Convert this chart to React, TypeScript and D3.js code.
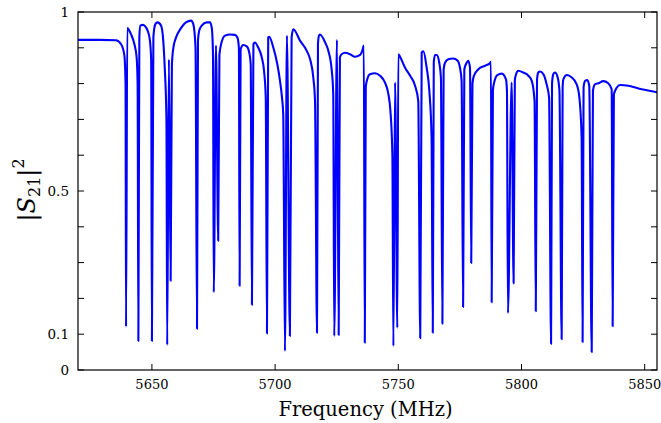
import React from "react";
import * as d3 from "d3";

// Axis ticks
const xTickValues = [5650, 5700, 5750, 5800, 5850];
const yTickValues = [0, 0.1, 0.2, 0.3, 0.4, 0.5, 0.6, 0.7, 0.8, 0.9, 1];
const yTickLabelled: Record<string, string> = { "0": "0", "0.1": "0.1", "0.5": "0.5", "1": "1" };

// Resonance dips: centre frequency (MHz) and minimum |S21|^2
const dipFreq = [
  5639.5, 5644.5, 5650.0, 5656.2, 5657.6, 5668.3, 5675.1, 5676.9, 5685.6, 5690.6,
  5696.7, 5704.0, 5706.0, 5717.0, 5724.0, 5725.8, 5736.4, 5748.0, 5749.6, 5758.9,
  5764.0, 5767.9, 5776.3, 5779.6, 5787.9, 5794.5, 5796.8, 5805.8, 5812.0, 5816.3,
  5824.8, 5828.5, 5837.0,
];
const dipMin = [
  0.121, 0.081, 0.081, 0.070, 0.249, 0.115, 0.217, 0.361, 0.235, 0.182,
  0.102, 0.053, 0.095, 0.104, 0.095, 0.098, 0.076, 0.067, 0.118, 0.089,
  0.104, 0.129, 0.176, 0.299, 0.189, 0.159, 0.242, 0.164, 0.073, 0.086,
  0.078, 0.050, 0.122,
];

// Transmission between the dips (frequency MHz, |S21|^2)
const continuum: [number, number][] = [
  [5620.0, 0.922], [5628.9, 0.922], [5635.4, 0.921], [5637.5, 0.910], [5638.8, 0.880], [5639.3, 0.800],
  [5640.0, 0.955], [5641.5, 0.938], [5642.9, 0.910], [5643.8, 0.873], [5644.2, 0.800],
  [5644.9, 0.930], [5645.3, 0.962], [5646.3, 0.964], [5648.3, 0.947], [5649.2, 0.920], [5649.7, 0.864],
  [5650.6, 0.930], [5651.4, 0.966], [5652.3, 0.971], [5653.7, 0.962], [5654.6, 0.920], [5655.2, 0.845], [5655.9, 0.700],
  [5656.9, 0.868],
  [5658.1, 0.850], [5658.7, 0.900], [5659.8, 0.929], [5661.8, 0.955], [5663.8, 0.971], [5665.9, 0.976], [5666.8, 0.966], [5667.7, 0.900],
  [5668.7, 0.920], [5669.2, 0.948], [5670.2, 0.962], [5672.2, 0.971], [5673.6, 0.971], [5674.3, 0.955], [5674.8, 0.880],
  [5676.0, 0.906],
  [5677.4, 0.880], [5678.3, 0.916], [5679.7, 0.934], [5681.7, 0.937], [5683.7, 0.936], [5684.7, 0.929], [5685.3, 0.900],
  [5686.0, 0.896], [5687.1, 0.908], [5688.5, 0.904], [5689.5, 0.887], [5690.1, 0.854],
  [5691.2, 0.910], [5691.8, 0.915], [5693.2, 0.900], [5694.6, 0.873], [5695.5, 0.836], [5696.2, 0.761],
  [5697.2, 0.929], [5697.6, 0.931], [5699.3, 0.900], [5700.9, 0.854], [5702.0, 0.807], [5702.8, 0.761], [5703.3, 0.714],
  [5704.8, 0.934],
  [5706.7, 0.930], [5707.4, 0.952], [5710.1, 0.920], [5712.8, 0.892], [5714.2, 0.868], [5715.5, 0.817], [5716.2, 0.752],
  [5717.4, 0.910], [5717.8, 0.934], [5718.2, 0.937], [5720.3, 0.915], [5721.6, 0.892], [5723.0, 0.836], [5723.6, 0.770],
  [5725.1, 0.922],
  [5726.3, 0.873], [5727.0, 0.882], [5728.4, 0.886], [5730.4, 0.882], [5732.4, 0.875], [5734.5, 0.880], [5735.4, 0.892], [5736.0, 0.906],
  [5736.8, 0.790], [5737.2, 0.807], [5738.5, 0.826], [5740.5, 0.829], [5742.6, 0.822], [5744.6, 0.803], [5746.0, 0.770], [5746.8, 0.724], [5747.6, 0.600],
  [5748.7, 0.803],
  [5750.0, 0.882], [5750.7, 0.875], [5752.7, 0.845], [5754.8, 0.822], [5756.8, 0.794], [5758.1, 0.752],
  [5759.5, 0.887], [5760.2, 0.890], [5761.5, 0.845], [5762.6, 0.780], [5763.5, 0.650],
  [5764.4, 0.860], [5764.9, 0.880], [5765.6, 0.880], [5766.6, 0.859], [5767.3, 0.817],
  [5768.4, 0.840], [5769.0, 0.859], [5770.3, 0.868], [5772.3, 0.870], [5774.1, 0.864], [5775.0, 0.845], [5775.7, 0.807],
  [5776.8, 0.840], [5777.8, 0.859], [5778.4, 0.864], [5779.1, 0.845],
  [5780.1, 0.800], [5780.7, 0.822], [5782.5, 0.840], [5785.2, 0.850], [5787.2, 0.857], [5787.6, 0.861],
  [5788.4, 0.780], [5788.9, 0.803], [5790.2, 0.824], [5792.0, 0.828], [5793.7, 0.812], [5794.1, 0.780],
  [5796.0, 0.803],
  [5797.3, 0.810], [5797.8, 0.826], [5798.7, 0.836], [5800.7, 0.831], [5802.8, 0.822], [5804.2, 0.807], [5805.3, 0.752],
  [5806.3, 0.810], [5806.8, 0.831], [5807.5, 0.834], [5808.9, 0.826], [5810.2, 0.798], [5811.2, 0.761],
  [5812.4, 0.800], [5812.9, 0.826], [5813.6, 0.831], [5814.7, 0.817], [5815.4, 0.780],
  [5816.7, 0.790], [5817.0, 0.812], [5818.4, 0.824], [5820.4, 0.817], [5822.4, 0.798], [5823.5, 0.761], [5824.4, 0.650],
  [5825.2, 0.790], [5825.8, 0.807], [5826.7, 0.810], [5827.5, 0.794],
  [5829.0, 0.780], [5829.8, 0.798], [5831.2, 0.801], [5833.2, 0.807], [5835.2, 0.801], [5836.6, 0.784],
  [5837.5, 0.770], [5838.7, 0.789], [5840.0, 0.796], [5843.4, 0.794], [5848.8, 0.784], [5855.0, 0.776],
];

const W = 661;
const H = 423;
const M = { left: 78, right: 657, top: 12, bottom: 370 };
const FONT = "DejaVu Serif";
const textStyle = { fontFamily: FONT };

export default function App() {
  const x = d3.scaleLinear().domain([5620, 5855]).range([M.left, M.right]);
  const y = d3.scaleLinear().domain([0, 1]).range([M.bottom, M.top]);

  const points: [number, number][] = continuum
    .concat(dipFreq.map((f, i) => [f, dipMin[i]] as [number, number]))
    .sort((a, b) => a[0] - b[0]);

  const line = d3
    .line<[number, number]>()
    .x((d) => x(d[0]))
    .y((d) => y(d[1]))
    .curve(d3.curveMonotoneX);

  const tickLen = 6;

  return (
    <svg
      width={W}
      height={H}
      style={{ position: "absolute", left: 0, top: 0, background: "#fff", fontFamily: FONT }}
    >
      <rect x={0} y={0} width={W} height={H} fill="#fff" />
      <defs>
        <clipPath id="plotclip">
          <rect x={M.left} y={M.top} width={M.right - M.left} height={M.bottom - M.top} />
        </clipPath>
      </defs>
      <path
        d={line(points) || ""}
        fill="none"
        stroke="#0000ff"
        strokeWidth={2.1}
        strokeLinejoin="round"
        clipPath="url(#plotclip)"
      />
      {/* frame */}
      <rect
        x={M.left}
        y={M.top}
        width={M.right - M.left}
        height={M.bottom - M.top}
        fill="none"
        stroke="#000"
        strokeWidth={1.2}
      />
      {/* x ticks */}
      {xTickValues.map((t) => (
        <g key={"x" + t}>
          <line x1={x(t)} x2={x(t)} y1={M.bottom} y2={M.bottom - tickLen} stroke="#000" strokeWidth={1} />
          <line x1={x(t)} x2={x(t)} y1={M.top} y2={M.top + tickLen} stroke="#000" strokeWidth={1} />
          <text x={x(t)} y={M.bottom + 19} textAnchor="middle" fontSize={13} fill="#000" style={textStyle}>
            {t}
          </text>
        </g>
      ))}
      {/* y ticks */}
      {yTickValues.map((t) => {
        const key = String(+t.toFixed(1));
        const label = yTickLabelled[key];
        return (
          <g key={"y" + key}>
            <line x1={M.left} x2={M.left + tickLen} y1={y(t)} y2={y(t)} stroke="#000" strokeWidth={1} />
            <line x1={M.right} x2={M.right - tickLen} y1={y(t)} y2={y(t)} stroke="#000" strokeWidth={1} />
            {label !== undefined && (
              <text x={M.left - 9} y={y(t)} dy="0.35em" textAnchor="end" fontSize={13.5} fill="#000" style={textStyle}>
                {label}
              </text>
            )}
          </g>
        );
      })}
      {/* axis titles */}
      <text x={(M.left + M.right) / 2 - 2} y={416} textAnchor="middle" fontSize={19.5} fill="#000" style={textStyle}>
        Frequency (MHz)
      </text>
      <text transform="translate(35,190) rotate(-90)" textAnchor="middle" fontSize={24} fill="#000" style={textStyle}>
        <tspan>|</tspan>
        <tspan fontStyle="italic">S</tspan>
        <tspan fontSize={16} dy={5}>21</tspan>
        <tspan dy={-5}>|</tspan>
        <tspan fontSize={16} dy={-11}>2</tspan>
      </text>
    </svg>
  );
}
